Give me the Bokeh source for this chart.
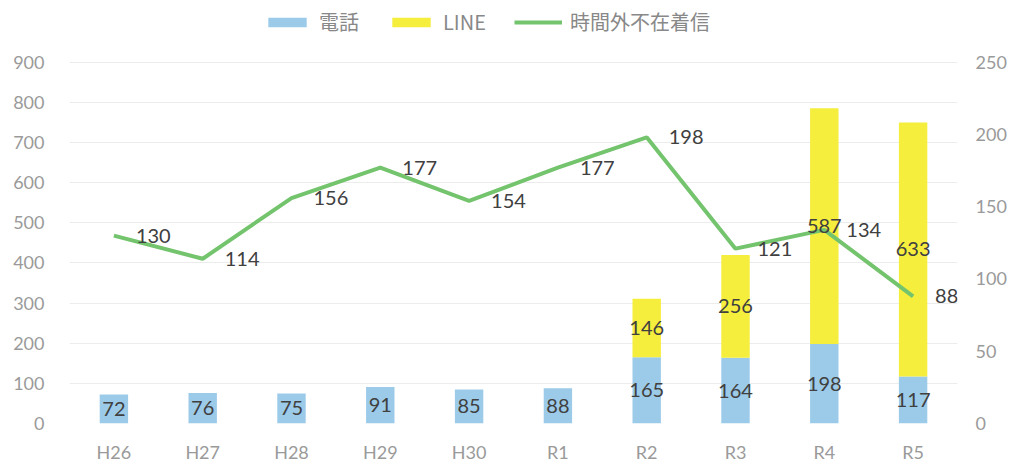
from bokeh.plotting import figure
from bokeh.models import (FactorRange, Range1d, LinearAxis, FixedTicker, ColumnDataSource,
                          Legend, LegendItem)
from bokeh.core.properties import value
from bokeh.embed import file_html
from bokeh.resources import INLINE

categories = ["H26", "H27", "H28", "H29", "H30", "R1", "R2", "R3", "R4", "R5"]
phone = [72, 76, 75, 91, 85, 88, 165, 164, 198, 117]
line_app = [0, 0, 0, 0, 0, 0, 146, 256, 587, 633]
after_hours = [130, 114, 156, 177, 154, 177, 198, 121, 134, 88]
left_ticks = [0, 100, 200, 300, 400, 500, 600, 700, 800, 900]
right_ticks = [0, 50, 100, 150, 200, 250]

BLUE = "#9ccbea"
YELLOW = "#f5ee3c"
GREEN = "#74c46e"
LABEL = "#404040"
TICK = "#9a9a9a"
FONT = "Lato"

# frame extends above the top tick so the legend can sit inside it
FRAME_H = 425
AXIS_H = 363
left_top = 900 * FRAME_H / AXIS_H
right_top = 250 * FRAME_H / AXIS_H

p = figure(width=1015, height=465, output_backend="svg", toolbar_location=None,
           x_range=FactorRange(*categories, range_padding=0),
           y_range=Range1d(0, left_top),
           min_border_left=69, min_border_right=58, min_border_top=0, min_border_bottom=40)
p.extra_y_ranges = {"right": Range1d(0, right_top)}
p.outline_line_color = None
p.background_fill_color = "white"

src = ColumnDataSource(dict(cat=categories, phone=phone, line_app=line_app, after=after_hours))
bars = p.vbar_stack(["phone", "line_app"], x="cat", width=0.32, source=src,
                    color=[BLUE, YELLOW], line_color=None)
ln = p.line(x="cat", y="after", source=src, line_color=GREEN, line_width=4,
            y_range_name="right")

# bar labels
pl = ColumnDataSource(dict(cat=categories, y=[v / 2 for v in phone], t=[str(v) for v in phone]))
p.text(x="cat", y="y", text="t", source=pl, text_align="center", text_baseline="middle",
       text_color=LABEL, text_font=value(FONT), text_font_size="20px")
li = [(c, a, b) for c, a, b in zip(categories, phone, line_app) if b > 0]
ll = ColumnDataSource(dict(cat=[c for c, a, b in li], y=[a + b / 2 for c, a, b in li],
                           t=[str(b) for c, a, b in li]))
p.text(x="cat", y="y", text="t", source=ll, text_align="center", text_baseline="middle",
       text_color=LABEL, text_font=value(FONT), text_font_size="20px")
al = ColumnDataSource(dict(cat=categories, y=after_hours, t=[str(v) for v in after_hours]))
p.text(x="cat", y="y", text="t", source=al, text_align="left", text_baseline="middle",
       x_offset=22, text_color=LABEL, text_font=value(FONT), text_font_size="20px",
       y_range_name="right")

# axes
p.yaxis.ticker = FixedTicker(ticks=left_ticks)
for ax in [p.yaxis[0], p.xaxis[0]]:
    ax.axis_line_color = None
    ax.major_tick_line_color = None
    ax.minor_tick_line_color = None
    ax.major_label_text_color = TICK
    ax.major_label_text_font = FONT
    ax.major_label_text_font_size = "18px"
p.yaxis.major_label_standoff = 25
p.xaxis.major_label_standoff = 17
p.xaxis.major_tick_out = 0
p.yaxis.major_tick_out = 0

rax = LinearAxis(y_range_name="right", ticker=FixedTicker(ticks=right_ticks))
rax.axis_line_color = None
rax.major_tick_line_color = None
rax.minor_tick_line_color = None
rax.major_tick_out = 0
rax.major_label_text_color = TICK
rax.major_label_text_font = FONT
rax.major_label_text_font_size = "18px"
rax.major_label_standoff = 18
p.add_layout(rax, "right")

p.xgrid.grid_line_color = None
p.ygrid.ticker = FixedTicker(ticks=left_ticks)
p.ygrid.grid_line_color = "#ececec"

legend = Legend(items=[LegendItem(label="電話", renderers=[bars[0]]),
                       LegendItem(label="LINE", renderers=[bars[1]]),
                       LegendItem(label="時間外不在着信", renderers=[ln])],
                orientation="horizontal", location=(194, 387),
                glyph_width=48, glyph_height=12, label_text_font="Noto Sans CJK JP",
                label_text_font_size="20px", label_text_color="#888888",
                border_line_color=None, background_fill_alpha=0,
                spacing=28, padding=0, margin=0, label_standoff=8)
p.add_layout(legend, "center")

open("out.html", "w").write(file_html(p, INLINE))
